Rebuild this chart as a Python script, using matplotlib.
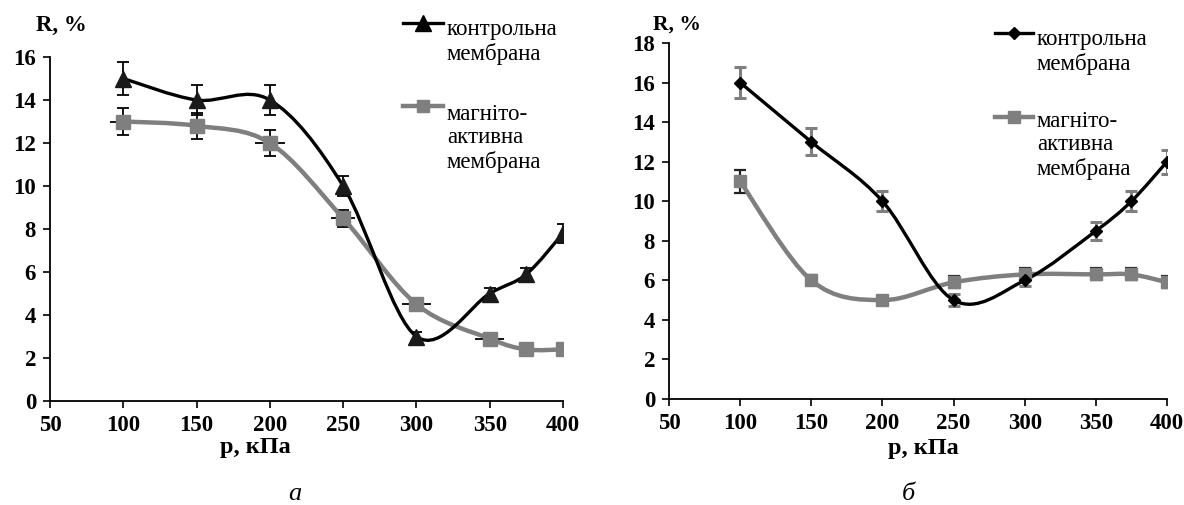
import numpy as np
import matplotlib
matplotlib.use('Agg')
import matplotlib.pyplot as plt
from matplotlib.path import Path
from matplotlib.patches import PathPatch
from matplotlib.lines import Line2D

plt.rcParams['font.family'] = ['Liberation Serif', 'DejaVu Serif']

# тиск, кПа
p = [100, 150, 200, 250, 300, 350, 375, 400]

# панель а
a_ctrl = [15.0, 14.0, 14.0, 10.0, 3.0, 5.0, 5.9, 7.8]
a_ctrl_err = [0.75, 0.7, 0.7, 0.45, 0.2, 0.25, 0.3, 0.45]
a_magn = [13.0, 12.8, 12.0, 8.5, 4.5, 2.9, 2.4, 2.4]
a_magn_err = [0.65, 0.6, 0.6, 0.4, 0.1, 0.1, 0.05, 0.0]
a_magn_xerr = [9, 0, 10, 8, 10, 10, 4, 0]

# панель б
b_ctrl = [16.0, 13.0, 10.0, 5.0, 6.0, 8.5, 10.0, 12.0]
b_ctrl_err = [0.8, 0.68, 0.5, 0.3, 0.3, 0.47, 0.5, 0.6]
b_magn = [11.0, 6.0, 5.0, 5.9, 6.3, 6.3, 6.3, 5.9]
b_magn_err = [0.57, 0.25, 0.1, 0.3, 0.3, 0.3, 0.3, 0.3]

lbl_ctrl = 'контрольна\nмембрана'
lbl_magn = 'магніто-\nактивна\nмембрана'

GREY = '#7f7f7f'
W, H = 1184, 505


def smooth(ax, x, y, color, lw):
    # згладжена лінія як в Excel (Безьє, натяг 1/6)
    x = np.asarray(x, float)
    y = np.asarray(y, float)
    pts = np.column_stack([x, y])
    n = len(pts)
    verts = [pts[0]]
    codes = [Path.MOVETO]
    for i in range(n - 1):
        p0 = pts[i - 1] if i > 0 else pts[i]
        p1 = pts[i]
        p2 = pts[i + 1]
        p3 = pts[i + 2] if i + 2 < n else pts[i + 1]
        c1 = p1 + (p2 - p0) / 6.0
        c2 = p2 - (p3 - p1) / 6.0
        verts += [c1, c2, p2]
        codes += [Path.CURVE4] * 3
    patch = PathPatch(Path(verts, codes), fill=False, edgecolor=color,
                      lw=lw, zorder=3, capstyle='round')
    ax.add_patch(patch)


def fx(x):
    return x / W


def fy(y):
    return 1 - y / H


fig = plt.figure(figsize=(11.84, 5.05), dpi=100)
ax1 = fig.add_axes([fx(50), fy(401), (563 - 50) / W, (401 - 57) / H])
ax2 = fig.add_axes([fx(669), fy(399), (1167 - 669) / W, (399 - 43) / H])

for ax, ymax in ((ax1, 16), (ax2, 18)):
    ax.set_xlim(50, 400)
    ax.set_ylim(0, ymax)
    ax.set_xticks(range(50, 401, 50))
    ax.set_yticks(range(0, ymax + 1, 2))
    for s in ('top', 'right'):
        ax.spines[s].set_visible(False)
    for s in ('left', 'bottom'):
        ax.spines[s].set_linewidth(1.3)
    ax.tick_params(direction='out', length=5, width=1.2, labelsize=16.5, pad=5)
    for t in ax.get_xticklabels() + ax.get_yticklabels():
        t.set_fontweight('bold')
    ax.set_xlabel('p, кПа', fontsize=17.5, fontweight='bold', labelpad=2)

ax1.xaxis.set_label_coords(0.40, -0.105)
ax2.xaxis.set_label_coords(0.51, -0.11)

# а
ax1.errorbar(p, a_magn, xerr=a_magn_xerr, fmt='none',
             ecolor='black', elinewidth=1.3, capsize=0, zorder=2)
ax1.errorbar(p, a_magn, yerr=a_magn_err, fmt='none',
             ecolor='black', elinewidth=1.3, capsize=4, capthick=1.3, zorder=2)
ax1.errorbar(p, a_ctrl, yerr=a_ctrl_err, fmt='none', ecolor='black',
             elinewidth=1.3, capsize=4, capthick=1.3, zorder=2)
smooth(ax1, p, a_magn, GREY, 3.2)
smooth(ax1, p, a_ctrl, 'black', 2.4)
ax1.plot(p, a_magn, ls='none', marker='s', ms=10, color=GREY, zorder=4)
ax1.plot(p, a_ctrl, ls='none', marker='^', ms=11, color='#1a1a1a', zorder=5)

# б
ax2.errorbar(p, b_magn, yerr=b_magn_err, fmt='none', ecolor='#222222',
             elinewidth=1.6, capsize=4, capthick=1.6, zorder=2)
ax2.errorbar(p, b_ctrl, yerr=b_ctrl_err, fmt='none', ecolor=GREY,
             elinewidth=2.2, capsize=4, capthick=2.2, zorder=2)
smooth(ax2, p, b_magn, GREY, 3.2)
smooth(ax2, p, b_ctrl, 'black', 2.4)
ax2.plot(p, b_magn, ls='none', marker='s', ms=9, color=GREY, zorder=4)
ax2.plot(p, b_ctrl, ls='none', marker='D', ms=6.5, color='black', zorder=5)

# підписи осей і панелей
fig.text(fx(36), fy(25), 'R, %', fontsize=16.5, fontweight='bold', va='center')
fig.text(fx(653), fy(25), 'R, %', fontsize=15.5, fontweight='bold', va='center')
fig.text(fx(295), fy(494), 'а', fontsize=19, style='italic', ha='center', va='center')
fig.text(fx(908), fy(494), 'б', fontsize=19, style='italic', ha='center', va='center')


def legend_entry(x0, x1, yl, ytxt, color, lw, marker, ms, label, fs):
    fig.add_artist(Line2D([fx(x0), fx(x1)], [fy(yl), fy(yl)], color=color,
                          lw=lw, transform=fig.transFigure))
    fig.add_artist(Line2D([fx((x0 + x1) / 2)], [fy(yl)], color=color,
                          marker=marker, ms=ms, transform=fig.transFigure))
    fig.text(fx(x1 + 4), fy(ytxt), label, fontsize=fs, va='top',
             linespacing=1.15)


legend_entry(403, 443, 23, 19, 'black', 2.4, '^', 11, lbl_ctrl, 16.5)
legend_entry(403, 443, 106, 104, GREY, 3.2, 's', 9, lbl_magn, 16.5)
legend_entry(995, 1033, 33, 29, 'black', 2.4, 'D', 6.5, lbl_ctrl, 16.5)
legend_entry(995, 1033, 117, 111, GREY, 3.2, 's', 8, lbl_magn, 16.5)

fig.savefig('out.png', dpi=100)
